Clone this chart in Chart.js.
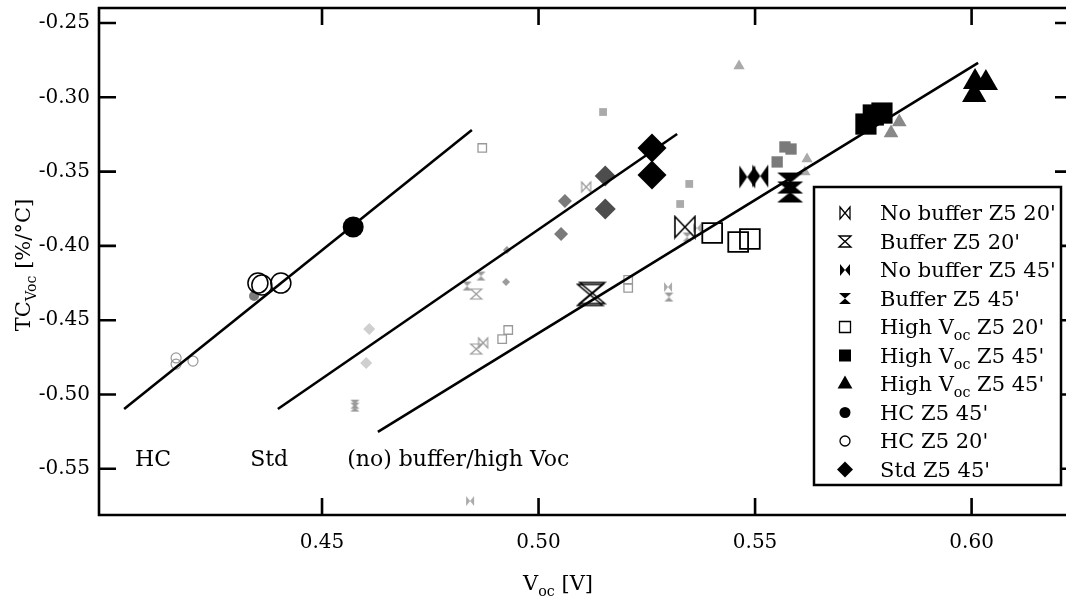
<!DOCTYPE html>
<html>
<head>
<meta charset="utf-8">
<script src="https://cdn.jsdelivr.net/npm/chart.js@4.4.1/dist/chart.umd.min.js"></script>
<style>
  html, body { margin: 0; padding: 0; background: #fff; }
  #wrap { width: 1066px; height: 599px; }
</style>
</head>
<body>
<div id="wrap"><canvas id="chart" width="1066" height="599"></canvas></div>
<script>
// Axis ticks
const xTicks = [0.45, 0.50, 0.55, 0.60];
const yTicks = [-0.55, -0.50, -0.45, -0.40, -0.35, -0.30, -0.25];

// Fitted trend lines [Voc, TC]
const fitHC = [[0.4043, -0.5098], [0.4846, -0.3220]];
const fitStd = [[0.4398, -0.5098], [0.5320, -0.3247]];
const fitBuf = [[0.4629, -0.5252], [0.6015, -0.2769]];

// Main series (black, in legend)
const noBuf20 = [[0.5338, -0.3873]];
const buf20 = [[0.5119, -0.4330], [0.5124, -0.4317]];
const noBuf45 = [[0.5482, -0.3536], [0.5512, -0.3530]];
const buf45 = [[0.5581, -0.3577], [0.5581, -0.3637]];
const highVoc20 = [[0.5401, -0.3913], [0.5461, -0.3974], [0.5488, -0.3954]];
const highVoc45 = [[0.5756, -0.3180], [0.5773, -0.3119], [0.5793, -0.3106]];
const highVoc45b = [[0.6008, -0.2897], [0.6033, -0.2904], [0.6006, -0.2985]];
const hc45 = [[0.4572, -0.3873]];
const hc20 = [[0.4352, -0.4250], [0.4361, -0.4263], [0.4405, -0.4250]];
const std45 = [[0.5262, -0.3341], [0.5262, -0.3523]];

// Individual cells (grey)
const greyStdDark = [[0.5154, -0.3530], [0.5154, -0.3752]];
const greyStdMid = [[0.5061, -0.3698], [0.5052, -0.3920]];
const greyStdLight = [[0.4927, -0.4028], [0.4925, -0.4243]];
const greyStdPale = [[0.4609, -0.4559], [0.4602, -0.4788]];
const greyHc45 = [[0.4343, -0.4337]];
const greyHc20 = [[0.4163, -0.4754], [0.4163, -0.4795], [0.4202, -0.4775]];
const greyHigh20 = [[0.4870, -0.3341], [0.4930, -0.4566], [0.4916, -0.4627], [0.5207, -0.4229], [0.5207, -0.4283]];
const greyHigh45Light = [[0.5149, -0.3099], [0.5348, -0.3583], [0.5327, -0.3718]];
const greyHigh45Mid = [[0.5569, -0.3334], [0.5583, -0.3348], [0.5551, -0.3435]];
const greyTriLight = [[0.5463, -0.2789], [0.5620, -0.3415], [0.5615, -0.3503]];
const greyTriMid = [[0.5833, -0.3166], [0.5814, -0.3240]];
const greyNoBuf20 = [[0.5110, -0.3604], [0.4872, -0.4653]];
const greyBuf20 = [[0.4856, -0.4324], [0.4856, -0.4694]];
const greyBuf45 = [[0.4867, -0.4203], [0.4835, -0.4270], [0.4576, -0.5065], [0.4576, -0.5085], [0.5301, -0.4344], [0.5343, -0.3940]];
const greyNoBuf45 = [[0.4842, -0.5717], [0.5299, -0.4277], [0.5366, -0.3880]];

const legendLabels = ["No buffer Z5 20'", "Buffer Z5 20'", "No buffer Z5 45'", "Buffer Z5 45'",
  "High V_{oc} Z5 20'", "High V_{oc} Z5 45'", "High V_{oc} Z5 45'", "HC Z5 45'", "HC Z5 20'", "Std Z5 45'"];

const FONT = '"DejaVu Serif", serif';

// bowtie / hourglass glyphs as canvases
function glyph(kind, w, h, color, filled, lw) {
  const pad = 2;
  const c = document.createElement('canvas');
  c.width = Math.ceil(w + pad * 2);
  c.height = Math.ceil(h + pad * 2);
  const g = c.getContext('2d');
  const l = pad, t = pad, r = pad + w, b = pad + h, cx = pad + w / 2, cy = pad + h / 2;
  g.beginPath();
  if (kind === 'bowtie') {
    g.moveTo(l, t); g.lineTo(cx, cy); g.lineTo(l, b); g.closePath();
    g.moveTo(r, t); g.lineTo(cx, cy); g.lineTo(r, b); g.closePath();
  } else {
    g.moveTo(l, t); g.lineTo(r, t); g.lineTo(cx, cy); g.closePath();
    g.moveTo(l, b); g.lineTo(r, b); g.lineTo(cx, cy); g.closePath();
  }
  if (filled) { g.fillStyle = color; g.fill(); }
  else { g.strokeStyle = color; g.lineWidth = lw || 1.5; g.stroke(); }
  return c;
}

const pts = a => a.map(p => ({ x: p[0], y: p[1] }));

function mk(data, style, r, color, filled, lw, order) {
  return {
    type: 'scatter', data: pts(data), order: order,
    pointStyle: style, pointRadius: r, pointHoverRadius: r,
    pointBackgroundColor: filled ? color : 'rgba(0,0,0,0)',
    pointBorderColor: color, pointBorderWidth: filled ? 0 : (lw || 1.5)
  };
}
function fit(data) {
  return { type: 'line', data: pts(data), order: 2, borderColor: '#000', borderWidth: 2.6,
    pointRadius: 0, fill: false, tension: 0 };
}

const G = 3, B = 1;
const datasets = [
  fit(fitHC), fit(fitStd), fit(fitBuf),
  mk(greyStdDark, 'rectRot', 10.5, '#4d4d4d', true, 0, G),
  mk(greyStdMid, 'rectRot', 7, '#7a7a7a', true, 0, G),
  mk(greyStdLight, 'rectRot', 4, '#9c9c9c', true, 0, G),
  mk(greyStdPale, 'rectRot', 6, '#cfcfcf', true, 0, G),
  mk(greyHc45, 'circle', 5, '#7a7a7a', true, 0, G),
  mk(greyHc20, 'circle', 5, '#999', false, 1.2, G),
  mk(greyHigh20, 'rect', 6, '#999', false, 1.3, G),
  mk(greyHigh45Light, 'rect', 5.5, '#aaa', true, 0, G),
  mk(greyHigh45Mid, 'rect', 8, '#7a7a7a', true, 0, G),
  mk(greyTriLight, 'triangle', 6.5, '#aaa', true, 0, G),
  mk(greyTriMid, 'triangle', 8.5, '#888', true, 0, G),
  mk(greyNoBuf20, glyph('bowtie', 9, 10, '#999', false, 1.2), 5, '#999', false, 1, G),
  mk(greyBuf20, glyph('hourglass', 11, 10, '#999', false, 1.2), 5, '#999', false, 1, G),
  mk(greyBuf45, glyph('hourglass', 9, 9, '#9a9a9a', true), 5, '#999', true, 0, G),
  mk(greyNoBuf45, glyph('bowtie', 8, 10, '#aaa', true), 5, '#aaa', true, 0, G),
  mk(noBuf20, glyph('bowtie', 20, 21, '#000', false, 1.6), 10, '#000', false, 1, B),
  mk(buf20, glyph('hourglass', 25, 21, '#000', false, 1.6), 10, '#000', false, 1, B),
  mk(noBuf45, glyph('bowtie', 16, 23, '#000', true), 10, '#000', true, 0, B),
  mk(buf45, glyph('hourglass', 26, 21, '#000', true), 10, '#000', true, 0, B),
  mk(highVoc20, 'rect', 14, '#000', false, 1.8, B),
  mk(highVoc45, 'rect', 15, '#000', true, 0, B),
  mk(highVoc45b, 'triangle', 14, '#000', true, 0, B),
  mk(hc45, 'circle', 10.5, '#000', true, 0, B),
  mk(hc20, 'circle', 10, '#000', false, 1.5, B),
  mk(std45, 'rectRot', 14.5, '#000', true, 0, B)
];

// text with _{sub} parts
function richParts(s) {
  const out = [], re = /_\{([^}]*)\}/g;
  let last = 0, m;
  while ((m = re.exec(s))) {
    if (m.index > last) out.push([s.slice(last, m.index), false]);
    out.push([m[1], true]);
    last = re.lastIndex;
  }
  if (last < s.length) out.push([s.slice(last), false]);
  return out;
}
function richWidth(ctx, s, size) {
  let w = 0;
  richParts(s).forEach(([t, sub]) => {
    ctx.font = (sub ? size * 0.68 : size) + 'px ' + FONT;
    w += ctx.measureText(t).width;
  });
  return w;
}
function drawRich(ctx, s, x, y, size) {
  let cx = x;
  richParts(s).forEach(([t, sub]) => {
    ctx.font = (sub ? size * 0.68 : size) + 'px ' + FONT;
    ctx.fillText(t, cx, sub ? y + size * 0.3 : y);
    cx += ctx.measureText(t).width;
  });
}

// legend markers
function legendMark(ctx, i, x, y) {
  ctx.fillStyle = '#000'; ctx.strokeStyle = '#000'; ctx.lineWidth = 1.3;
  const img = [glyph('bowtie', 10, 12, '#000', false, 1.3), glyph('hourglass', 12, 11, '#000', false, 1.3),
    glyph('bowtie', 10, 12, '#000', true), glyph('hourglass', 12, 11, '#000', true)];
  if (i < 4) { ctx.drawImage(img[i], x - img[i].width / 2, y - img[i].height / 2); return; }
  ctx.beginPath();
  if (i === 4) { ctx.rect(x - 5.5, y - 5.5, 11, 11); ctx.stroke(); }
  else if (i === 5) { ctx.fillRect(x - 6, y - 6, 12, 12); }
  else if (i === 6) { ctx.moveTo(x, y - 8.5); ctx.lineTo(x + 7.4, y + 4.5); ctx.lineTo(x - 7.4, y + 4.5); ctx.closePath(); ctx.fill(); }
  else if (i === 7) { ctx.arc(x, y, 5.5, 0, Math.PI * 2); ctx.fill(); }
  else if (i === 8) { ctx.arc(x, y, 5, 0, Math.PI * 2); ctx.stroke(); }
  else { ctx.moveTo(x, y - 8); ctx.lineTo(x + 8, y); ctx.lineTo(x, y + 8); ctx.lineTo(x - 8, y); ctx.closePath(); ctx.fill(); }
}

const decorations = {
  id: 'decorations',
  afterDraw(chart) {
    const { ctx, chartArea: a, scales: { x, y } } = chart;
    ctx.save();
    // frame + inward ticks
    ctx.strokeStyle = '#000';
    ctx.lineWidth = 2.6;
    ctx.beginPath();
    ctx.moveTo(a.right + 2, a.top); ctx.lineTo(a.left, a.top);
    ctx.lineTo(a.left, a.bottom); ctx.lineTo(a.right + 2, a.bottom);
    ctx.stroke();
    ctx.beginPath();
    xTicks.forEach(v => {
      const px = x.getPixelForValue(v);
      ctx.moveTo(px, a.top); ctx.lineTo(px, a.top + 17);
      ctx.moveTo(px, a.bottom); ctx.lineTo(px, a.bottom - 17);
    });
    yTicks.forEach(v => {
      const py = y.getPixelForValue(v);
      ctx.moveTo(a.left, py); ctx.lineTo(a.left + 17, py);
      ctx.moveTo(a.right, py); ctx.lineTo(a.right - 11, py);
    });
    ctx.stroke();

    // line labels
    ctx.fillStyle = '#000';
    ctx.textBaseline = 'alphabetic';
    ctx.font = '22px ' + FONT;
    const by = y.getPixelForValue(-0.5481);
    ctx.fillText('HC', x.getPixelForValue(0.4068), by);
    ctx.fillText('Std', x.getPixelForValue(0.4334), by);
    ctx.fillText('(no) buffer/high Voc', x.getPixelForValue(0.4558), by);

    // axis titles
    const xt = 'V_{oc} [V]';
    drawRich(ctx, xt, 558 - richWidth(ctx, xt, 21) / 2, 590, 21);
    const yt = 'TC_{Voc} [%/°C]';
    ctx.save();
    ctx.translate(30, 265);
    ctx.rotate(-Math.PI / 2);
    drawRich(ctx, yt, -richWidth(ctx, yt, 21) / 2, 0, 21);
    ctx.restore();

    // legend box
    const lx = 814, ly = 187, lw = 247, lh = 298;
    ctx.fillStyle = '#fff';
    ctx.fillRect(lx, ly, lw, lh);
    ctx.lineWidth = 2.5;
    ctx.strokeStyle = '#000';
    ctx.strokeRect(lx, ly, lw, lh);
    legendLabels.forEach((lab, i) => {
      const ry = 213 + i * 28.5;
      legendMark(ctx, i, 845, ry);
      ctx.fillStyle = '#000';
      drawRich(ctx, lab, 880, ry + 7, 21);
    });
    ctx.restore();
  }
};

const noPad = s => { s.paddingTop = 0; s.paddingBottom = 0; s.paddingLeft = 0; s.paddingRight = 0; };

new Chart(document.getElementById('chart'), {
  type: 'scatter',
  data: { datasets: datasets },
  options: {
    responsive: false,
    animation: false,
    events: [],
    layout: { autoPadding: false, padding: { top: 8, right: 0, left: 0, bottom: 0 } },
    plugins: { legend: { display: false }, tooltip: { enabled: false } },
    scales: {
      x: {
        type: 'linear', min: 0.3985, max: 0.6218,
        afterBuildTicks: s => { s.ticks = xTicks.map(v => ({ value: v })); },
        afterFit: s => { s.height = 84; noPad(s); },
        grid: { display: false, drawTicks: false },
        border: { display: false },
        ticks: { color: '#000', padding: 16, maxRotation: 0, autoSkip: false,
          font: { family: FONT, size: 20 }, callback: v => v.toFixed(2) }
      },
      y: {
        type: 'linear', min: -0.5811, max: -0.2399,
        afterBuildTicks: s => { s.ticks = yTicks.map(v => ({ value: v })); },
        afterFit: s => { s.width = 99; noPad(s); },
        grid: { display: false, drawTicks: false },
        border: { display: false },
        ticks: { color: '#000', padding: 9, autoSkip: false,
          font: { family: FONT, size: 20 }, callback: v => v.toFixed(2) }
      }
    }
  },
  plugins: [decorations]
});
</script>
</body>
</html>
